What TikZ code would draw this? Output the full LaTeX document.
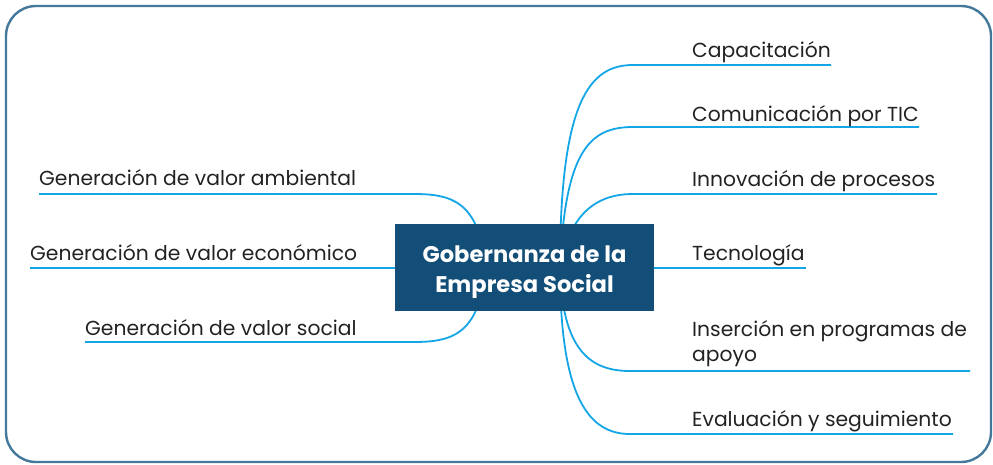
\documentclass[tikz,border=0pt]{standalone}
\usepackage{fontspec}
\setmainfont{Poppins}
\usetikzlibrary{backgrounds}
\definecolor{frameC}{HTML}{44789A}
\definecolor{boxC}{HTML}{124E78}
\definecolor{lineC}{HTML}{12A6E6}
\definecolor{txtC}{HTML}{222222}
\begin{document}
\begin{tikzpicture}[x=1pt,y=-1pt,
  leaf/.style={anchor=base west,inner sep=0pt,text=txtC,font=\fontsize{20.3}{25}\selectfont},
  conn/.style={draw=lineC,line width=1.8pt},
  hub/.style={fill=boxC,minimum width=259pt,minimum height=87pt,inner sep=0pt},
  hubtext/.style={text=white,inner sep=0pt,align=center,font=\fontsize{22.6}{30}\selectfont\bfseries}]
\useasboundingbox (0,0) rectangle (993,464);
\draw[frameC,line width=2.4pt,rounded corners=30pt] (6,6) rectangle (991,462);
% hub
\node[hub] (hub) at (524.5,267.5) {};
\node[hubtext] (hubt) at ([yshift=-5pt]hub.center) {Gobernanza de la\\Empresa Social};
% hidden origins
\coordinate (oR) at (560,268);
\coordinate (oL) at (485,268);
% right leaves
\node[leaf] (cap) at (692,57) {Capacitación};
\node[leaf] (com) at (692,121) {Comunicación por TIC};
\node[leaf] (inn) at (692,186) {Innovación de procesos};
\node[leaf] (tec) at (692,260) {Tecnología};
\node[leaf,align=left] (ins) at (692,361) {Inserción en programas de\\apoyo};
\node[leaf] (eva) at (692,426) {Evaluación y seguimiento};
% left leaves
\node[leaf] (amb) at (39,185) {Generación de valor ambiental};
\node[leaf] (eco) at (30,260) {Generación de valor económico};
\node[leaf] (soc) at (85,335) {Generación de valor social};
% line ends
\coordinate (capA) at (633,65);  \coordinate (capB) at (831,65);
\coordinate (comA) at (633,127); \coordinate (comB) at (919,127);
\coordinate (innA) at (633,194); \coordinate (innB) at (937,194);
\coordinate (tecB) at (806,268);
\coordinate (insA) at (630,371); \coordinate (insB) at (970,371);
\coordinate (evaA) at (630,434); \coordinate (evaB) at (953,434);
\coordinate (ambA) at (413,194); \coordinate (ambB) at (39,194);
\coordinate (ecoB) at (30,268);
\coordinate (socA) at (413,342); \coordinate (socB) at (85,342);
\begin{scope}[on background layer]
\draw[conn] (oR) .. controls (560,100) and (590,65) .. (capA) -- (capB);
\draw[conn] (oR) .. controls (565,150) and (590,127) .. (comA) -- (comB);
\draw[conn] (oR) .. controls (570,210) and (600,194) .. (innA) -- (innB);
\draw[conn] (oR) -- (tecB);
\draw[conn] (oR) .. controls (562,350) and (590,371) .. (insA) -- (insB);
\draw[conn] (oR) .. controls (560,400) and (590,434) .. (evaA) -- (evaB);
\draw[conn] (oL) .. controls (480,200) and (450,194) .. (ambA) -- (ambB);
\draw[conn] (oL) -- (ecoB);
\draw[conn] (oL) .. controls (480,336) and (450,342) .. (socA) -- (socB);
\end{scope}
\end{tikzpicture}
\end{document}
